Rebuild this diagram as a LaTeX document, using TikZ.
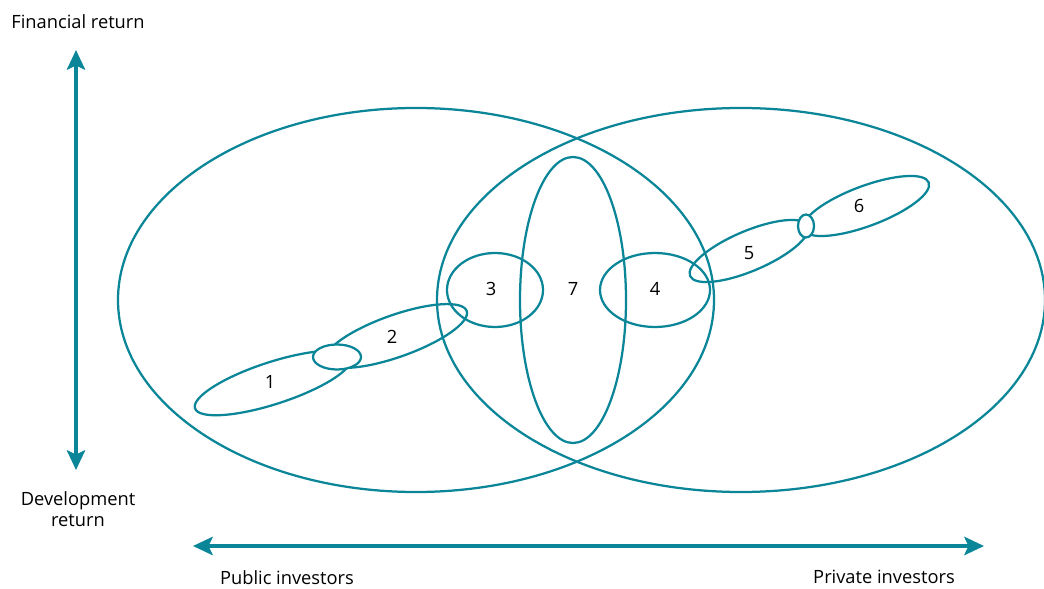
\documentclass[tikz,border=0pt]{standalone}
\usepackage{fontspec}
\setmainfont{Open Sans}
\usetikzlibrary{arrows.meta,positioning}
\definecolor{tealline}{RGB}{10,134,152}

\begin{document}
\begin{tikzpicture}[
  x=0.025cm,y=-0.025cm,
  ring/.style={draw=tealline,line width=1.6pt},
  knot/.style={ring,fill=white},
  axis/.style={{Stealth[length=14pt,width=13pt,inset=3pt]}-{Stealth[length=14pt,width=13pt,inset=3pt]},
               draw=tealline,line width=3.3pt},
  num/.style={font=\fontsize{13}{15}\selectfont,inner sep=1pt},
  lbl/.style={font=\fontsize{13}{15}\selectfont,align=center,inner sep=1pt}
]
\useasboundingbox (0,0) rectangle (1044,589);

% the two investor groups
\draw[ring] (416,300) ellipse [x radius=298,y radius=192];
\draw[ring] (741,300) ellipse [x radius=304,y radius=192];

% middle shapes
\draw[ring] (573,300) ellipse [x radius=53,y radius=143];
\draw[ring] (495,290) ellipse [x radius=48,y radius=37];
\draw[ring] (655,290) ellipse [x radius=55,y radius=37];

% tilted chains
\draw[ring,rotate around={18:(273,383)}] (273,383) ellipse [x radius=82,y radius=21];
\draw[ring,rotate around={19.5:(396,336)}] (396,336) ellipse [x radius=75,y radius=21];
\draw[knot] (337,357) ellipse [x radius=24,y radius=12.5];
\draw[ring,rotate around={23:(749,251)}] (749,251) ellipse [x radius=64,y radius=20];
\draw[ring,rotate around={20.5:(866,206)}] (866,206) ellipse [x radius=67,y radius=20];
\draw[knot] (806,226) ellipse [x radius=8,y radius=11.5];

% numbers
\node[num] (n1) at (270,382) {1};
\node[num] (n2) at (392,337) {2};
\node[num] (n3) at (491,289) {3};
\node[num] (n7) at (573,289) {7};
\node[num] (n4) at (655,289) {4};
\node[num] (n5) at (749,253) {5};
\node[num] (n6) at (859,206) {6};

% axes
\coordinate (ftop) at (76,50);
\coordinate (fbot) at (76,470);
\coordinate (hleft) at (193,546);
\coordinate (hright) at (984,546);
\draw[axis] (ftop) -- (fbot);
\draw[axis] (hleft) -- (hright);

\node[lbl] (fin) at (78,22) {Financial return};
\node[lbl] (dev) at (78,509) {Development\\return};
\node[lbl] (pub) at (287,578) {Public investors};
\node[lbl] (pri) at (884,577) {Private investors};
\end{tikzpicture}
\end{document}
